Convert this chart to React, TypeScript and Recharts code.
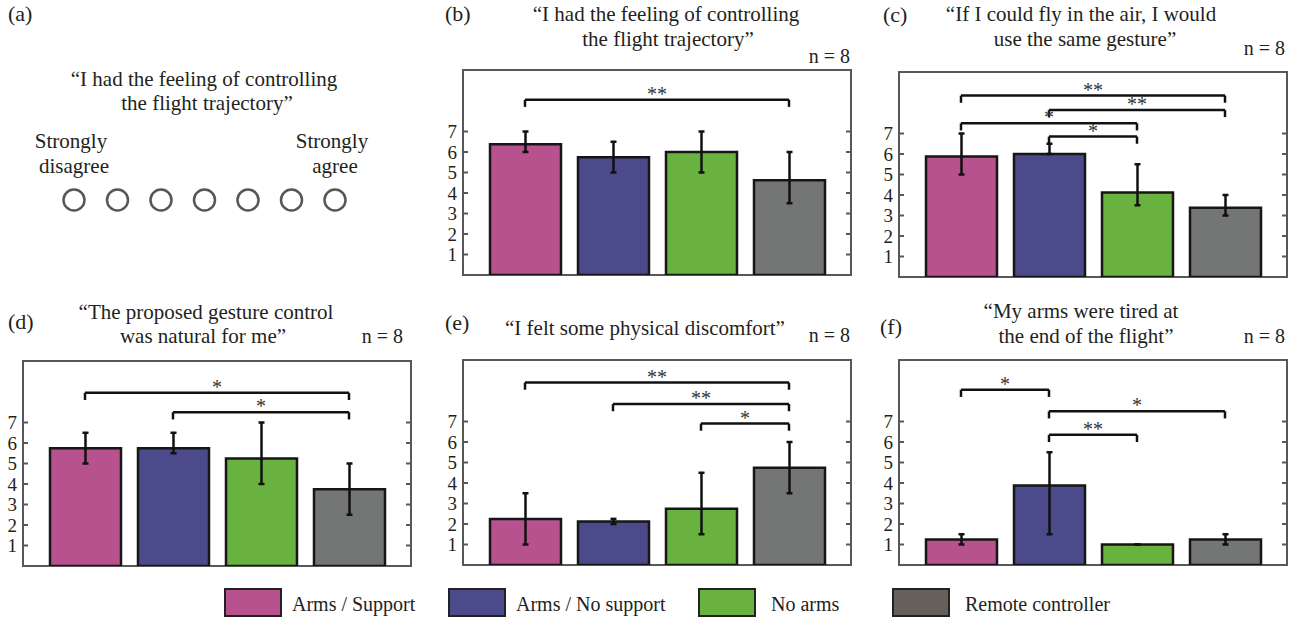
import React from "react";
import {
  Bar,
  BarChart,
  Cell,
  ErrorBar,
  ReferenceLine,
  Scatter,
  ScatterChart,
  XAxis,
  YAxis,
} from "recharts";

// conditions, same order in every panel
const groups = ["Arms / Support", "Arms / No support", "No arms", "Remote controller"];
const yTicks = [1, 2, 3, 4, 5, 6, 7];
const likertLevels = [1, 2, 3, 4, 5, 6, 7];

// (b) "I had the feeling of controlling the flight trajectory"
const meanB = [6.375, 5.75, 6.0, 4.625];
const lowB = [6, 5, 5, 3.5];
const highB = [7, 6.5, 7, 6];
const sigB = [{ from: 0, to: 3, y: 8.55, label: "**" }];

// (c) "If I could fly in the air, I would use the same gesture"
const meanC = [5.875, 6.0, 4.125, 3.375];
const lowC = [5, 6, 3.5, 3];
const highC = [7, 6.5, 5.5, 4];
const sigC = [
  { from: 0, to: 3, y: 8.85, label: "**" },
  { from: 1, to: 3, y: 8.15, label: "**" },
  { from: 0, to: 2, y: 7.5, label: "*" },
  { from: 1, to: 2, y: 6.85, label: "*" },
];

// (d) "The proposed gesture control was natural for me"
const meanD = [5.75, 5.75, 5.25, 3.75];
const lowD = [5, 5.5, 4, 2.5];
const highD = [6.5, 6.5, 7, 5];
const sigD = [
  { from: 0, to: 3, y: 8.45, label: "*" },
  { from: 1, to: 3, y: 7.5, label: "*" },
];

// (e) "I felt some physical discomfort"
const meanE = [2.25, 2.125, 2.75, 4.75];
const lowE = [1, 2, 1.5, 3.5];
const highE = [3.5, 2.25, 4.5, 6];
const sigE = [
  { from: 0, to: 3, y: 8.9, label: "**" },
  { from: 1, to: 3, y: 7.85, label: "**" },
  { from: 2, to: 3, y: 6.9, label: "*" },
];

// (f) "My arms were tired at the end of the flight"
const meanF = [1.25, 3.875, 1.0, 1.25];
const lowF = [1, 1.5, 1, 1];
const highF = [1.5, 5.5, 1, 1.5];
const sigF = [
  { from: 0, to: 1, y: 8.55, label: "*" },
  { from: 1, to: 3, y: 7.5, label: "*" },
  { from: 1, to: 2, y: 6.35, label: "**" },
];

const barColors = ["#b8528f", "#4b4a8b", "#6ab23f", "#747675"];
const legendColors = ["#b8528f", "#4b4a8b", "#6ab23f", "#665f5a"];

const FONT = "Liberation Serif, Times New Roman, serif";
const INK = "#231f20";
const FRAME = "#58585a";
const PW = 388;
const PH = 205;
const YW = 40;
const TM = 6;
const TICK = 5;
const LEG = 0.35;

function YTick(props: any) {
  const { x, y, payload } = props;
  const ax = x + TM;
  return (
    <g>
      <line x1={ax} x2={ax + TICK} y1={y} y2={y} stroke={FRAME} strokeWidth={2} />
      <line x1={ax + PW - TICK} x2={ax + PW} y1={y} y2={y} stroke={FRAME} strokeWidth={2} />
      <text x={x} y={y} dy="0.36em" textAnchor="end" style={{ fontSize: 19, fontFamily: FONT }} fill={INK}>
        {payload.value}
      </text>
    </g>
  );
}

function TopTick(props: any) {
  const { x, y } = props;
  return <line x1={x} x2={x} y1={y} y2={y + TICK} stroke={FRAME} strokeWidth={2} />;
}

type Sig = { from: number; to: number; y: number; label: string };

function Panel({ left, top, mean, low, high, sig }: any) {
  const rows = groups.map((g, i) => ({
    cat: g,
    mean: mean[i],
    err: [mean[i] - low[i], high[i] - mean[i]],
  }));
  return (
    <>
      <div
        style={{
          position: "absolute",
          left: left - 1,
          top: top - 1,
          width: PW + 2,
          height: PH + 2,
          border: `2px solid ${FRAME}`,
          boxSizing: "border-box",
        }}
      />
      <div style={{ position: "absolute", left: left - YW, top }}>
        <BarChart
          width={YW + PW}
          height={PH}
          data={rows}
          margin={{ top: 0, right: 0, bottom: 0, left: 0 }}
          barSize={71}
        >
          <XAxis
            dataKey="cat"
            orientation="top"
            height={0}
            axisLine={false}
            tickLine={false}
            tickSize={0}
            tickMargin={0}
            interval={0}
            padding={{ left: 18, right: 18 }}
            tick={(p: any) => <TopTick {...p} />}
          />
          <YAxis
            type="number"
            domain={[0, 10]}
            ticks={yTicks}
            interval={0}
            width={YW}
            axisLine={false}
            tickLine={false}
            tickSize={0}
            tickMargin={TM}
            tick={(p: any) => <YTick {...p} />}
          />
          <Bar dataKey="mean" stroke="#161616" strokeWidth={2.5} isAnimationActive={false}>
            {rows.map((r, i) => (
              <Cell key={r.cat} fill={barColors[i]} />
            ))}
            <ErrorBar
              dataKey="err"
              direction="y"
              width={3}
              stroke="#111"
              strokeWidth={2.5}
              isAnimationActive={false}
            />
          </Bar>
          {sig.flatMap((s: Sig, k: number) => [
            <ReferenceLine
              key={`h${k}`}
              segment={[
                { x: groups[s.from], y: s.y },
                { x: groups[s.to], y: s.y },
              ]}
              stroke="#111"
              strokeWidth={2.5}
              label={{
                value: s.label,
                position: "top",
                offset: -1,
                fill: "#333",
                fontSize: 20,
                fontFamily: FONT,
              }}
            />,
            <ReferenceLine
              key={`l${k}`}
              segment={[
                { x: groups[s.from], y: s.y },
                { x: groups[s.from], y: s.y - LEG },
              ]}
              stroke="#111"
              strokeWidth={2.5}
            />,
            <ReferenceLine
              key={`r${k}`}
              segment={[
                { x: groups[s.to], y: s.y },
                { x: groups[s.to], y: s.y - LEG },
              ]}
              stroke="#111"
              strokeWidth={2.5}
            />,
          ])}
        </BarChart>
      </div>
    </>
  );
}

const labels = [
  { t: "(a)", x: 8, y: 21 },
  { t: "(b)", x: 445, y: 21 },
  { t: "(c)", x: 883, y: 22 },
  { t: "(d)", x: 8, y: 329 },
  { t: "(e)", x: 445, y: 330 },
  { t: "(f)", x: 880, y: 334 },
];

const titles = [
  { t: "\u201cI had the feeling of controlling", x: 204, y: 86 },
  { t: "the flight trajectory\u201d", x: 207, y: 110 },
  { t: "Strongly", x: 71, y: 148 },
  { t: "disagree", x: 74, y: 173 },
  { t: "Strongly", x: 332, y: 148 },
  { t: "agree", x: 335, y: 173 },
  { t: "\u201cI had the feeling of controlling", x: 666, y: 21 },
  { t: "the flight trajectory\u201d", x: 668, y: 46 },
  { t: "\u201cIf I could fly in the air, I would", x: 1081, y: 21 },
  { t: "use the same gesture\u201d", x: 1085, y: 46 },
  { t: "\u201cThe proposed gesture control", x: 206, y: 319 },
  { t: "was natural for me\u201d", x: 203, y: 343 },
  { t: "\u201cI felt some physical discomfort\u201d", x: 645, y: 335 },
  { t: "\u201cMy arms were tired at", x: 1081, y: 318 },
  { t: "the end of the flight\u201d", x: 1086, y: 343 },
];

const nLabels = [
  { x: 850, y: 63 },
  { x: 1285, y: 55 },
  { x: 403, y: 343 },
  { x: 850, y: 342 },
  { x: 1285, y: 343 },
];

const legendBoxX = [225, 449, 699, 893];
const legendTextX = [292, 516, 771, 965];

export default function App() {
  const likertPoints = likertLevels.map((v) => ({ x: v, y: 0 }));
  return (
    <div
      style={{
        position: "absolute",
        left: 0,
        top: 0,
        width: 1294,
        height: 619,
        background: "#fff",
        fontFamily: FONT,
        overflow: "hidden",
      }}
    >
      <div style={{ position: "absolute", left: 59, top: 179.5 }}>
        <ScatterChart width={291} height={40} margin={{ top: 0, right: 15, bottom: 0, left: 15 }}>
          <XAxis type="number" dataKey="x" domain={[1, 7]} hide />
          <YAxis type="number" dataKey="y" domain={[-1, 1]} hide />
          <Scatter
            data={likertPoints}
            isAnimationActive={false}
            shape={(p: any) => (
              <circle cx={p.cx} cy={p.cy} r={10.5} fill="none" stroke="#5b5652" strokeWidth={2.5} />
            )}
          />
        </ScatterChart>
      </div>

      <Panel left={463} top={70} mean={meanB} low={lowB} high={highB} sig={sigB} />
      <Panel left={899} top={72} mean={meanC} low={lowC} high={highC} sig={sigC} />
      <Panel left={23} top={361} mean={meanD} low={lowD} high={highD} sig={sigD} />
      <Panel left={463} top={360} mean={meanE} low={lowE} high={highE} sig={sigE} />
      <Panel left={899} top={360} mean={meanF} low={lowF} high={highF} sig={sigF} />

      <svg
        width={1294}
        height={619}
        style={{ position: "absolute", left: 0, top: 0, pointerEvents: "none", fontFamily: FONT }}
      >
        {labels.map((l) => (
          <text key={l.t} x={l.x} y={l.y} style={{ fontSize: 22 }} fill={INK}>
            {l.t}
          </text>
        ))}
        {titles.map((l, i) => (
          <text key={i} x={l.x} y={l.y} textAnchor="middle" style={{ fontSize: 21 }} fill={INK}>
            {l.t}
          </text>
        ))}
        {nLabels.map((l, i) => (
          <text key={i} x={l.x} y={l.y} textAnchor="end" style={{ fontSize: 20 }} fill={INK}>
            n = 8
          </text>
        ))}
        {groups.map((g, i) => (
          <g key={g}>
            <rect
              x={legendBoxX[i]}
              y={589}
              width={56}
              height={27}
              fill={legendColors[i]}
              stroke="#222"
              strokeWidth={2}
            />
            <text x={legendTextX[i]} y={611} style={{ fontSize: 20 }} fill={INK}>
              {g}
            </text>
          </g>
        ))}
      </svg>
    </div>
  );
}
